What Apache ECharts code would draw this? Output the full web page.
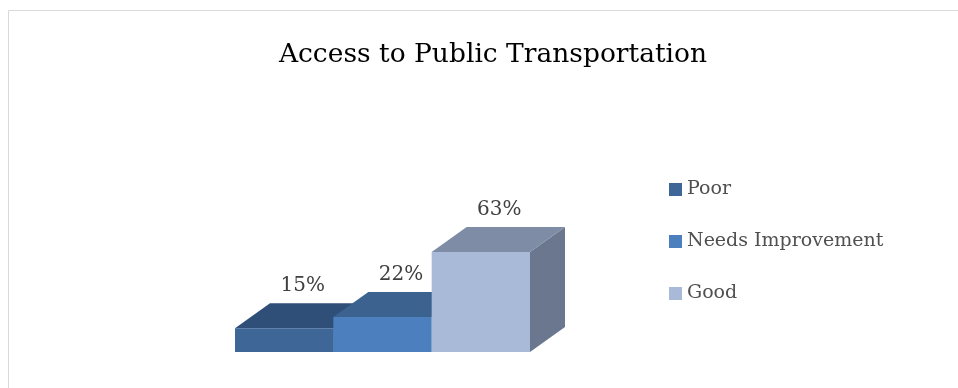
<!DOCTYPE html>
<html>
<head>
<meta charset="utf-8">
<style>
  html, body { margin: 0; padding: 0; background: #ffffff; }
  #chart { width: 958px; height: 388px; }
</style>
<script src="https://cdn.jsdelivr.net/npm/echarts@6/dist/echarts.min.js"></script>
</head>
<body>
<div id="chart"></div>
<script>
// Survey responses: share of respondents per rating
const categories = ['Poor', 'Needs Improvement', 'Good'];
const values = [15, 22, 63];
const valueLabels = ['15%', '22%', '63%'];

// Face colours for each block: front, top, side
const faceColors = [
  { front: '#3e6697', top: '#2f4f78', side: '#2a466b' },
  { front: '#4b7fbd', top: '#3c6390', side: '#345781' },
  { front: '#a9b9d8', top: '#7f8ca5', side: '#6b778f' }
];

// Depth offset of the extruded blocks (pixels)
const DEPTH_X = 35;
const DEPTH_Y = -25;
const FONT = '"DejaVu Serif", "Liberation Serif", serif';

const chart = echarts.init(document.getElementById('chart'), null, { renderer: 'canvas' });

function makeRenderer(idx) {
  const c = faceColors[idx];
  return function (params, api) {
    const xi = api.value(0);
    const v = api.value(1);
    const base = api.coord([xi, 0]);
    const top = api.coord([xi, v]);
    const w = api.size([1, 0])[0];
    const x0 = base[0] - w / 2;
    const x1 = base[0] + w / 2;
    const yb = base[1];
    const yt = top[1];
    return {
      type: 'group',
      children: [
        {
          type: 'polygon',
          shape: { points: [[x1, yt], [x1 + DEPTH_X, yt + DEPTH_Y], [x1 + DEPTH_X, yb + DEPTH_Y], [x1, yb]] },
          style: { fill: c.side }
        },
        {
          type: 'polygon',
          shape: { points: [[x0, yt], [x1, yt], [x1 + DEPTH_X, yt + DEPTH_Y], [x0 + DEPTH_X, yt + DEPTH_Y]] },
          style: { fill: c.top }
        },
        {
          type: 'rect',
          shape: { x: x0, y: yt, width: x1 - x0, height: yb - yt },
          style: { fill: c.front }
        },
        {
          type: 'text',
          style: {
            text: valueLabels[idx],
            x: (x0 + x1) / 2 + DEPTH_X / 2 + 1,
            y: yt + DEPTH_Y - 7,
            align: 'center',
            verticalAlign: 'bottom',
            fill: '#404040',
            font: '20px ' + FONT
          }
        }
      ]
    };
  };
}

const series = categories.map(function (name, i) {
  return {
    name: name,
    type: 'custom',
    renderItem: makeRenderer(i),
    encode: { x: 0, y: 1 },
    itemStyle: { color: faceColors[i].front },
    data: [[i, values[i]]],
    z: 2 + i
  };
});

chart.setOption({
  animation: false,
  title: {
    text: 'Access to Public Transportation',
    left: 488,
    top: 37,
    textAlign: 'center',
    textStyle: { fontFamily: FONT, fontSize: 26.5, fontWeight: 'normal', color: '#000000' }
  },
  legend: {
    orient: 'vertical',
    left: 664,
    top: 175,
    icon: 'rect',
    itemWidth: 13,
    itemHeight: 13,
    itemGap: 33,
    data: categories,
    textStyle: { fontFamily: FONT, fontSize: 19, color: '#505050' }
  },
  grid: { left: 235, right: 428, top: 241, bottom: 36 },
  xAxis: {
    type: 'category',
    data: categories,
    show: false
  },
  yAxis: {
    type: 'value',
    min: 0,
    max: 70,
    interval: 10,
    show: false
  },
  graphic: [
    {
      type: 'rect',
      silent: true,
      z: -1,
      shape: { x: 8.5, y: 10.5, width: 1000, height: 500 },
      style: { fill: 'none', stroke: '#d9d9d9', lineWidth: 1 }
    }
  ],
  series: series
});
</script>
</body>
</html>
